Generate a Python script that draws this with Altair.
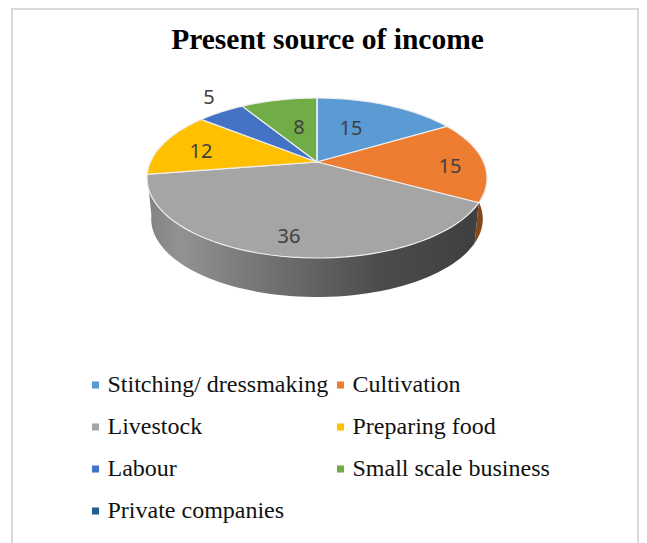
import math
import altair as alt
import pandas as pd

# --- chart values ---
categories = ["Stitching/ dressmaking", "Cultivation", "Livestock", "Preparing food",
              "Labour", "Small scale business", "Private companies"]
values = [15, 15, 36, 12, 5, 8, 0]
colors = ["#5b9bd5", "#ed7d31", "#a5a5a5", "#ffc000", "#4472c4", "#70ad47", "#255e91"]
title_text = "Present source of income"

# --- layout ---
W, H = 631, 535
APEX_X, APEX_Y = 317, 162
RX, RY, TILT = 166.6, 76.8, 0.2
FLOOR_SCALE, FLOOR_Y = 0.975, 203.4
label_pos = [(351, 128), (450, 166), (289, 236), (201, 151), (209, 97), (299, 127), None]


def rim(deg, scale=1.0, apex_y=APEX_Y):
    t = math.radians(deg)
    u, v = math.sin(t), math.cos(t)
    d = 1 + TILT * v
    return APEX_X + scale * RX * u / d, apex_y - scale * RY * v / d


total = sum(values)
edges = [0]
for val in values:
    edges.append(edges[-1] + val / total * 360)


def sweep(a, b, n=48):
    return [a + (b - a) * i / n for i in range(n + 1)]


# wedge outlines, derived from the values
rows = []
for i, cat in enumerate(categories):
    pts = [(APEX_X, APEX_Y)] + [rim(d) for d in sweep(edges[i], edges[i + 1])] + [(APEX_X, APEX_Y)]
    for k, (x, y) in enumerate(pts):
        rows.append({"cat": cat, "x": x, "y": y, "k": k})
wedges = pd.DataFrame(rows)


def wall(a, b):
    top = [rim(d) for d in sweep(a, b, 64)]
    low = [rim(d, FLOOR_SCALE, FLOOR_Y) for d in sweep(a, b, 64)]
    pts = top + low[::-1] + top[:1]
    return pd.DataFrame([{"x": x, "y": y, "k": k} for k, (x, y) in enumerate(pts)])


x_enc = alt.X("x:Q", axis=None, scale=alt.Scale(domain=[8, 8 + W], nice=False, zero=False))
y_enc = alt.Y("y:Q", axis=None, scale=alt.Scale(domain=[8 + H, 8], nice=False, zero=False))

grey_wall = alt.Chart(wall(edges[2], edges[3])).mark_line(
    strokeWidth=0,
    fill=alt.LinearGradient(
        gradient="linear", x1=0, x2=1, y1=0, y2=0,
        stops=[
            alt.GradientStop(offset=0, color="#828282"),
            alt.GradientStop(offset=0.1, color="#929292"),
            alt.GradientStop(offset=0.4, color="#6e6e6e"),
            alt.GradientStop(offset=0.7, color="#4c4c4c"),
            alt.GradientStop(offset=1, color="#3f3f3f"),
        ],
    ),
).encode(x=x_enc, y=y_enc, order="k:Q")

orange_wall = alt.Chart(wall(edges[1] - 18, edges[2])).mark_line(
    strokeWidth=0, fill="#85481a"
).encode(x=x_enc, y=y_enc, order="k:Q")

slices = alt.Chart(wedges).mark_line(
    stroke="#eeeeee", strokeWidth=1.2, filled=True
).encode(
    x=x_enc,
    y=y_enc,
    order="k:Q",
    fill=alt.Fill(
        "cat:N",
        scale=alt.Scale(domain=categories, range=colors),
        sort=categories,
        legend=alt.Legend(
            title=None, orient="none", legendX=75.5, legendY=365, columns=2,
            direction="horizontal",
            symbolType="square", symbolSize=50, symbolStrokeWidth=0,
            labelFont="Liberation Serif", labelFontSize=24, labelColor="#111111",
            labelLimit=400, labelOffset=0, rowPadding=18, columnPadding=0,
            gridAlign="each",
        ),
    ),
)

label_df = pd.DataFrame([
    {"x": p[0], "y": p[1], "t": str(v)} for p, v in zip(label_pos, values) if p is not None
])
labels = alt.Chart(label_df).mark_text(
    font="Noto Sans", fontSize=20, color="#404040", baseline="middle", align="center", dy=1
).encode(x=x_enc, y=y_enc, text="t:N")

frame_v = alt.Chart(pd.DataFrame({"x": [12, 638]})).mark_rule(
    color="#d9d9d9", strokeWidth=2
).encode(x=x_enc, y=alt.value(0), y2=alt.value(H))
frame_h = alt.Chart(pd.DataFrame({"y": [9]})).mark_rule(
    color="#d9d9d9", strokeWidth=2
).encode(y=y_enc, x=alt.value(4), x2=alt.value(630))

chart = (
    alt.layer(frame_v, frame_h, orange_wall, grey_wall, slices, labels)
    .properties(
        width=W, height=H, padding=0, autosize=alt.AutoSizeParams(type="none"),
        title=alt.TitleParams(
            title_text, font="Liberation Serif", fontSize=29.5, fontWeight="bold",
            color="#000000", anchor="middle", offset=0, dy=48, dx=4,
        ),
    )
    .configure_view(stroke=None)
)

chart.save("out.html", embed_options={"renderer": "svg", "actions": False})
